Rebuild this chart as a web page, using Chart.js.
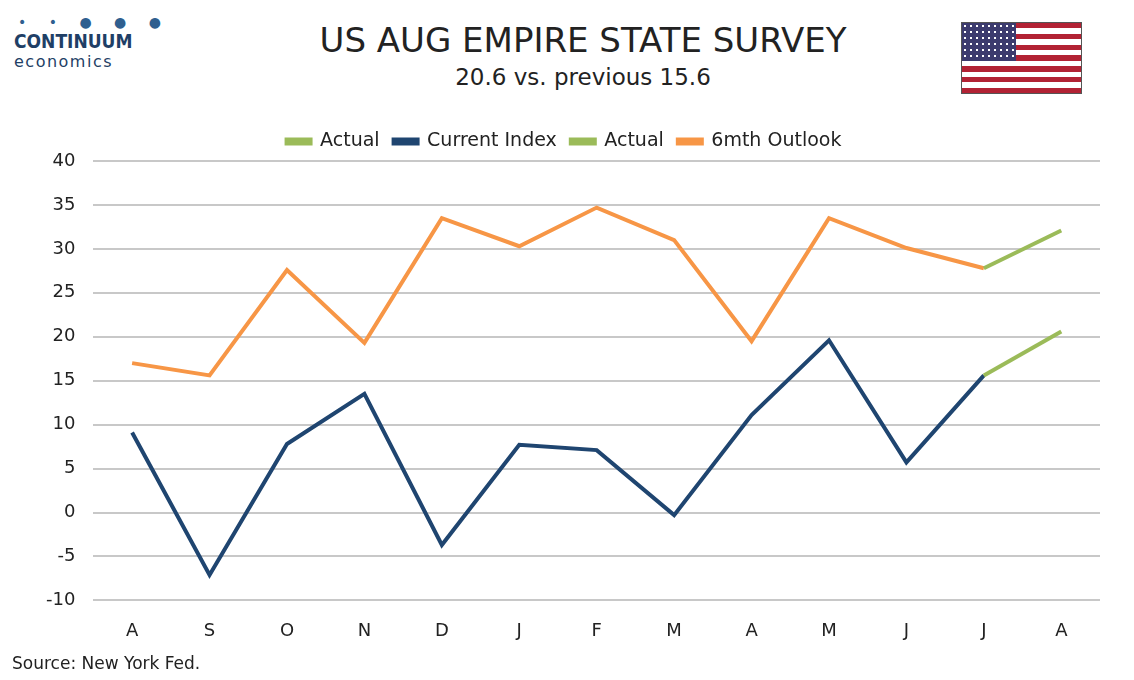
<!DOCTYPE html>
<html><head><meta charset="utf-8">
<script src="https://cdn.jsdelivr.net/npm/chart.js@4"></script>
<style>
body{margin:0;width:1134px;height:680px;background:#fff;font-family:'DejaVu Sans',Verdana,sans-serif;position:relative;overflow:hidden}
#t{position:absolute;top:20px;left:0;width:1166px;text-align:center;font-size:34px;color:#222}
#s{position:absolute;top:64px;left:0;width:1166px;text-align:center;font-size:23px;color:#222}
#logo{position:absolute;left:14px;top:14px;color:#1f3f66}
#flag{position:absolute;left:961px;top:22px;width:119px;height:70px;border:1px solid #555;
background:repeating-linear-gradient(#b22234 0 5.4px,#fff 5.4px 10.8px)}
#canton{position:absolute;left:0;top:0;width:54px;height:38px;background:#3c3b6e;
background-image:radial-gradient(#fff 1px,transparent 1.3px);background-size:6px 6px}
#src{position:absolute;left:12px;top:653px;font-size:17px;color:#222}
#wrap{position:absolute;left:0;top:118px;width:1100px;height:536px}
</style></head><body>
<div id="logo"><div style="font-size:14px;letter-spacing:9px;color:#2f5f8f;padding-left:4px">• • ● ● ●</div>
<div style="font-size:19px;font-weight:bold;font-family:'Liberation Sans Narrow','DejaVu Sans Condensed';">CONTINUUM</div>
<div style="font-size:16px;letter-spacing:1.5px">economics</div></div>
<div id="t">US AUG EMPIRE STATE SURVEY</div>
<div id="s">20.6 vs. previous 15.6</div>
<div id="flag"><div id="canton"></div></div>
<div id="wrap"><canvas id="c"></canvas></div>
<div id="src">Source: New York Fed.</div>
<script>
const months = ['A','S','O','N','D','J','F','M','A','M','J','J','A'];
const currentIndex = [9.1,-7.1,7.8,13.5,-3.7,7.7,7.1,-0.3,11.1,19.6,5.7,15.6,null];
const currentActual = [null,null,null,null,null,null,null,null,null,null,null,15.6,20.6];
const outlook = [17.0,15.6,27.6,19.3,33.5,30.3,34.7,31.0,19.5,33.5,30.1,27.8,null];
const outlookActual = [null,null,null,null,null,null,null,null,null,null,null,27.8,32.1];
const green='#9bbb59', navy='#1f4570', orange='#f79646';
function ds(label,data,color){return {label,data,borderColor:color,backgroundColor:color,borderWidth:4,pointRadius:0,tension:0,spanGaps:false};}
new Chart(document.getElementById('c'),{
  type:'line',
  data:{labels:months,datasets:[
    ds('Actual',currentActual,green),
    ds('Current Index',currentIndex,navy),
    ds('Actual',outlookActual,green),
    ds('6mth Outlook',outlook,orange)]},
  options:{responsive:true,maintainAspectRatio:false,animation:false,
    layout:{padding:{left:28,right:0,top:0}},
    plugins:{legend:{labels:{font:{size:19,family:'DejaVu Sans'},color:'#222',boxWidth:24,boxHeight:4,padding:14}},tooltip:{enabled:false}},
    scales:{
      x:{offset:true,grid:{display:false},border:{display:false},ticks:{font:{size:18,family:'DejaVu Sans'},color:'#222',padding:12}},
      y:{min:-10,max:40,ticks:{stepSize:5,font:{size:18,family:'DejaVu Sans'},color:'#222',padding:18},
         grid:{color:'#c8c8c8',lineWidth:2,drawTicks:false},border:{display:false}}
    }}
});
</script>
</body></html>
